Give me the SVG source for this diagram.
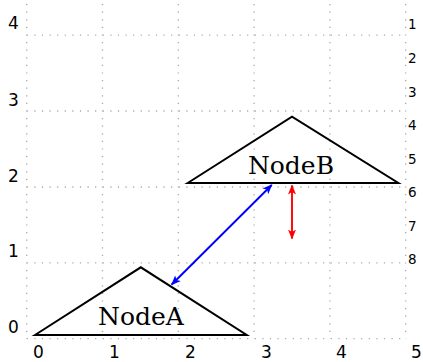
<svg xmlns="http://www.w3.org/2000/svg" width="423" height="362" viewBox="0 0 423 362">
<style>
.grid{stroke:#a8a8a8;stroke-width:1.3;stroke-dasharray:1.2 6.4;fill:none}
.ax{font-family:"DejaVu Sans",sans-serif;font-size:17px;fill:#000}
.rl{font-family:"DejaVu Sans",sans-serif;font-size:13.5px;fill:#000}
.tri{fill:none;stroke:#000;stroke-width:2;stroke-linejoin:miter}
.lbl{font-family:"DejaVu Serif",serif;font-size:25px;fill:#000;text-anchor:middle}
.con{fill:none;stroke-width:1.9}
</style>
<defs>
<marker id="hb" viewBox="0 0 10 10" refX="9" refY="5" markerWidth="10" markerHeight="10" markerUnits="userSpaceOnUse" orient="auto-start-reverse">
<path d="M0,1 L10,5 L0,9 L2.5,5 Z" fill="#0000ff"/>
</marker>
<marker id="hr" viewBox="0 0 10 10" refX="9" refY="5" markerWidth="10" markerHeight="10" markerUnits="userSpaceOnUse" orient="auto-start-reverse">
<path d="M0,1 L10,5 L0,9 L2.5,5 Z" fill="#ff0000"/>
</marker>
</defs>
<g id="grid">
<path class="grid" d="M26.7,4V338.7M102.5,4V338.7M178.3,4V338.7M254.1,4V338.7M329.9,4V338.7M405.7,4V338.7M26.7,35.1H405.7M26.7,111H405.7M26.7,187H405.7M26.7,262.8H405.7M26.7,338.7H405.7"/>
</g>
<g id="axes">
<text class="ax" x="8" y="29">4</text>
<text class="ax" x="8" y="106">3</text>
<text class="ax" x="8" y="182">2</text>
<text class="ax" x="8" y="257">1</text>
<text class="ax" x="8" y="333">0</text>
<text class="ax" x="33" y="358">0</text>
<text class="ax" x="109" y="358">1</text>
<text class="ax" x="185" y="358">2</text>
<text class="ax" x="261" y="358">3</text>
<text class="ax" x="336" y="358">4</text>
<text class="ax" x="411" y="358">5</text>
<text class="rl" x="408" y="29">1</text>
<text class="rl" x="408" y="63">2</text>
<text class="rl" x="408" y="96.5">3</text>
<text class="rl" x="408" y="130">4</text>
<text class="rl" x="408" y="163.5">5</text>
<text class="rl" x="408" y="197">6</text>
<text class="rl" x="408" y="230.5">7</text>
<text class="rl" x="408" y="264">8</text>
</g>
<g id="NodeA">
<path class="tri" d="M35,335 L140.8,267.3 L246.7,335 Z"/>
<text class="lbl" x="141" y="325">NodeA</text>
</g>
<g id="NodeB">
<path class="tri" d="M187.7,183 L292,116.7 L398.3,183 Z"/>
<text class="lbl" x="291" y="174">NodeB</text>
</g>
<g id="connectors">
<path class="con" stroke="#0000ff" d="M171.7,284.5 L271.7,185" marker-start="url(#hb)" marker-end="url(#hb)"/>
<path class="con" stroke="#ff0000" d="M292,185.5 L292,238.5" marker-start="url(#hr)" marker-end="url(#hr)"/>
</g>
</svg>
